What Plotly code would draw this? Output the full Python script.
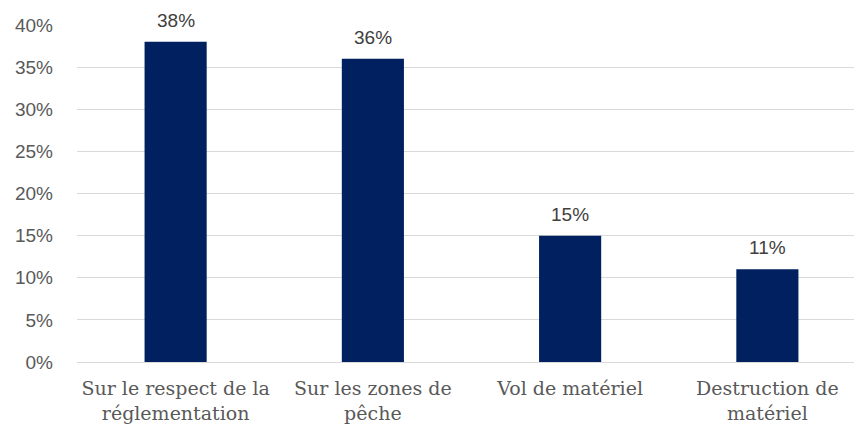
import plotly.graph_objects as go

categories = [
    "Sur le respect de la<br>réglementation",
    "Sur les zones de<br>pêche",
    "Vol de matériel",
    "Destruction de<br>matériel",
]
values = [0.38, 0.36, 0.15, 0.11]
labels = ["38%", "36%", "15%", "11%"]
tick_vals = [0, 0.05, 0.10, 0.15, 0.20, 0.25, 0.30, 0.35, 0.40]
tick_text = ["0%", "5%", "10%", "15%", "20%", "25%", "30%", "35%", "40%"]

fig = go.Figure()
fig.add_trace(
    go.Bar(
        x=categories,
        y=values,
        marker=dict(color="#002060", line=dict(width=0)),
        hoverinfo="skip",
    )
)
# data labels above bars
for cat, val, lab in zip(categories, values, labels):
    fig.add_annotation(
        x=cat,
        y=val,
        text=lab,
        showarrow=False,
        yanchor="bottom",
        yshift=9,
        font=dict(family="Liberation Sans, Arial", size=19, color="#404040"),
    )

# page body has an 8px margin, so offsets are reduced by 8
fig.update_layout(
    width=862,
    height=434,
    plot_bgcolor="white",
    paper_bgcolor="white",
    margin=dict(l=69, r=4, t=17, b=80, autoexpand=False),
    bargap=0.685,
    showlegend=False,
)
fig.update_yaxes(
    range=[0, 0.40],
    tickvals=tick_vals,
    ticktext=tick_text,
    showgrid=True,
    gridcolor="#D9D9D9",
    gridwidth=1,
    zeroline=False,
    showline=False,
    ticks="",
    automargin=False,
    ticklabelstandoff=23,
    tickfont=dict(family="Liberation Sans, Arial", size=19, color="#595959"),
)
fig.update_xaxes(
    showline=True,
    linecolor="#D9D9D9",
    linewidth=1,
    ticks="",
    automargin=False,
    ticklabelstandoff=9,
    tickfont=dict(family="DejaVu Serif", size=19, color="#595959"),
)
fig.write_html("out.html")
